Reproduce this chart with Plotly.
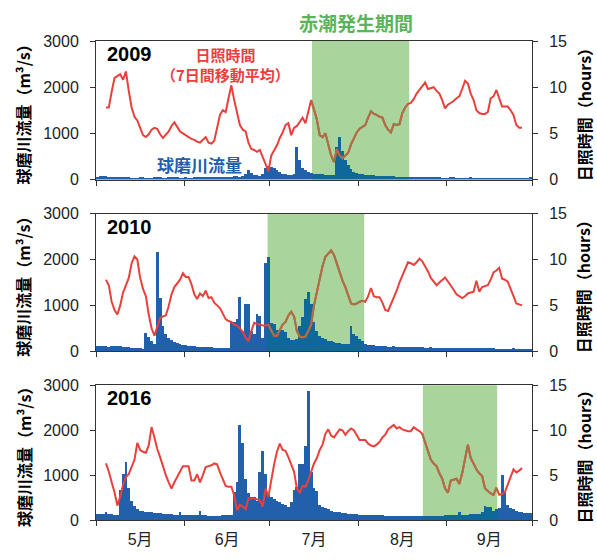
import pandas as pd
import plotly.graph_objects as go

YEARS = [2009, 2010, 2016]

# daily river flow (m3/s), May 1 - Sep 30
flow_2009 = [60, 70, 80, 75, 65, 60, 55, 50, 50, 45,
             45, 45, 40, 40, 40, 45, 45, 40, 40, 40,
             45, 50, 45, 40, 40, 45, 50, 50, 45, 40,
             40, 45, 40, 40, 45, 50, 50, 45, 45, 50,
             55, 65, 60, 55, 50, 50, 55, 60, 80, 70,
             65, 80, 120, 210, 150, 100, 90, 80, 110, 250,
             290, 280, 250, 200, 160, 130, 110, 100, 90, 120,
             700, 420, 240, 200, 170, 140, 130, 120, 110, 110,
             100, 100, 95, 95, 710, 920, 625, 415, 310, 220,
             170, 140, 125, 115, 105, 100, 95, 90, 85, 80,
             80, 75, 75, 70, 70, 65, 65, 60, 60, 55,
             55, 50, 50, 55, 50, 45, 45, 50, 60, 50,
             45, 40, 40, 40, 45, 45, 40, 40, 35, 35,
             40, 45, 40, 40, 35, 35, 35, 35, 35, 40,
             35, 35, 35, 30, 30, 30, 30, 35, 35, 30,
             30, 35, 60]
flow_2010 = [130, 120, 120, 115, 110, 120, 125, 120, 115, 110,
             100, 90, 80, 70, 70, 70, 65, 400, 310, 220,
             170, 2180, 1170, 560, 380, 300, 250, 210, 190, 170,
             150, 140, 130, 120, 115, 110, 100, 100, 95, 90,
             90, 85, 85, 80, 80, 80, 75, 650, 640, 700,
             1185, 450, 1040, 1040, 440, 380, 830, 770, 300, 1930,
             2060, 620, 600, 480, 475, 470, 430, 300, 260, 260,
             270, 560, 760, 1150, 1300, 1040, 650, 450, 340, 300,
             270, 240, 220, 200, 190, 180, 170, 165, 160, 560,
             380, 330, 280, 240, 160, 150, 150, 140, 130, 125,
             120, 115, 110, 110, 115, 110, 100, 100, 105, 100,
             95, 95, 90, 90, 90, 85, 85, 90, 85, 80,
             80, 80, 80, 80, 75, 75, 75, 75, 80, 75,
             75, 75, 75, 70, 70, 70, 70, 70, 70, 70,
             65, 65, 65, 65, 65, 65, 70, 65, 65, 65,
             65, 65, 65]
flow_2016 = [115, 115, 115, 175, 130, 115, 110, 110, 660, 1020,
             1275, 700, 420, 300, 240, 200, 190, 180, 170, 160,
             150, 150, 140, 130, 125, 120, 115, 110, 105, 160,
             110, 100, 95, 95, 95, 95, 190, 110, 95, 90,
             90, 90, 90, 90, 95, 95, 95, 100, 620, 840,
             2110, 1700, 910, 600, 500, 500, 420, 1060, 1530, 1020,
             560, 500, 470, 420, 400, 350, 330, 280, 400, 660,
             730, 1240, 1240, 1650, 2870, 1060, 700, 630, 330, 280,
             250, 230, 190, 180, 170, 160, 150, 140, 130, 125,
             120, 115, 110, 110, 105, 105, 100, 100, 95, 95,
             95, 90, 90, 90, 85, 85, 85, 80, 80, 80,
             80, 80, 80, 85, 75, 80, 90, 80, 80, 85,
             90, 85, 95, 100, 110, 105, 110, 170, 110, 100,
             110, 120, 130, 120, 130, 170, 300, 290, 280, 200,
             230, 260, 985, 620, 330, 260, 230, 200, 170, 160,
             155, 150, 150]

# sunshine hours, 7-day moving average, May 4 - Sep 27
sun_2009 = [7.8, 7.8, 9.5, 11.0, 11.2, 11.4, 10.8, 11.7, 9.6, 7.8,
            6.8, 6.4, 5.6, 4.8, 4.6, 4.9, 5.4, 5.6, 5.5, 4.9,
            4.5, 4.9, 5.2, 5.8, 6.2, 5.7, 5.2, 5.0, 4.8, 4.6,
            4.4, 4.3, 4.1, 4.0, 4.3, 4.6, 4.0, 3.9, 4.2, 5.5,
            7.0, 7.5, 7.3, 8.8, 10.2, 8.6, 7.2, 5.9, 5.4, 5.2,
            4.0, 3.3, 3.2, 3.0, 3.2, 2.4, 1.6, 0.9, 2.6, 3.2,
            3.7, 4.5, 5.1, 5.9, 6.1, 4.8, 5.6, 5.8, 6.3, 6.7,
            6.1, 7.5, 8.6, 7.6, 6.5, 4.8, 4.6, 5.0, 3.8, 2.6,
            1.9, 3.3, 2.6, 2.3, 2.6, 2.9, 3.8, 4.5, 5.1, 5.5,
            5.7, 5.9, 6.7, 7.4, 7.1, 7.0, 6.8, 6.7, 5.9, 5.4,
            5.1, 6.0, 5.9, 6.0, 7.2, 7.8, 8.2, 8.3, 8.7, 9.3,
            9.7, 10.1, 10.5, 9.8, 9.9, 10.0, 9.6, 9.3, 8.6, 7.7,
            8.1, 8.3, 8.5, 8.8, 9.0, 9.8, 10.7, 10.4, 9.3, 8.6,
            7.5, 7.2, 7.1, 7.1, 7.3, 8.8, 9.0, 9.7, 8.8, 7.9,
            7.9, 7.9, 7.5, 7.0, 5.9, 5.6, 5.6]
sun_2010 = [7.8, 7.2, 5.4, 4.5, 4.0, 5.0, 6.4, 7.2, 8.0, 9.6,
            10.35, 10.0, 8.0, 6.8, 6.0, 4.0, 2.5, 1.7, 2.8, 3.6,
            3.8, 3.9, 4.9, 6.2, 7.0, 7.4, 7.8, 8.5, 8.1, 8.1,
            7.3, 6.2, 5.7, 6.3, 6.0, 6.6, 5.8, 5.9, 5.3, 5.0,
            4.7, 4.1, 3.5, 3.3, 3.2, 2.9, 2.8, 2.5, 2.1, 1.5,
            1.1, 2.2, 3.1, 3.0, 2.9, 2.8, 2.8, 2.9, 2.2, 1.7,
            1.7, 2.4, 2.9, 3.2, 3.9, 4.3, 3.8, 2.2, 1.6, 1.5,
            1.6, 2.2, 2.9, 5.0, 6.5, 8.0, 9.3, 10.3, 10.7, 11.0,
            10.5, 9.6, 8.5, 7.7, 7.0, 6.1, 5.2, 5.1, 5.2, 5.4,
            5.5, 5.4, 6.0, 6.9, 6.0, 5.9, 5.9, 5.3, 4.5, 4.4,
            5.1, 5.8, 6.6, 7.5, 8.2, 9.0, 9.7, 9.6, 9.4, 9.7,
            10.1, 9.8, 9.3, 8.7, 8.0, 7.6, 7.2, 7.5, 7.8, 8.05,
            7.6, 7.2, 6.7, 6.2, 6.0, 5.8, 6.0, 6.3, 6.4, 6.5,
            7.7, 6.5, 7.0, 7.1, 7.2, 7.8, 8.6, 8.8, 9.1, 7.9,
            7.8, 7.6, 6.9, 6.0, 5.2, 5.1, 5.0]
sun_2016 = [6.3, 5.4, 4.2, 3.1, 1.6, 2.6, 3.9, 4.8, 5.1, 5.9,
            6.7, 8.6, 7.8, 7.6, 7.5, 8.3, 10.35, 9.2, 7.9, 7.0,
            5.9, 5.0, 4.2, 3.5, 4.2, 4.8, 5.4, 6.0, 6.0, 6.0,
            4.4, 4.4, 5.1, 4.2, 5.0, 5.9, 6.0, 6.1, 6.3, 6.2,
            5.3, 4.6, 3.8, 3.7, 3.7, 2.75, 1.1, 1.7, 1.5, 1.2,
            2.4, 2.4, 2.4, 2.3, 2.2, 1.5, 3.5, 2.6, 4.5, 6.2,
            7.6, 8.5, 7.8, 7.7, 7.0, 6.3, 5.4, 3.5, 3.0, 3.8,
            3.7, 4.4, 5.5, 6.3, 6.9, 7.8, 8.4, 9.6, 10.1, 9.4,
            9.2, 9.7, 10.1, 10.0, 9.5, 9.9, 10.2, 10.0, 9.4, 8.9,
            8.9, 8.9, 8.5, 8.3, 8.2, 8.4, 8.7, 9.2, 9.5, 10.1,
            10.35, 10.6, 10.2, 10.35, 10.1, 10.0, 9.9, 9.9, 10.35, 10.1,
            9.9, 9.6, 8.6, 7.5, 6.7, 6.3, 6.0, 5.2, 4.6, 3.5,
            3.05, 4.4, 4.5, 4.6, 4.0, 5.2, 6.8, 8.4, 6.9, 6.2,
            5.65, 5.2, 4.9, 3.5, 3.2, 2.95, 2.8, 3.6, 2.8, 2.9,
            3.1, 3.9, 4.7, 5.65, 5.3, 5.5, 5.8]

# red tide periods
tide_2009 = ["2009-07-15T19:00", "2009-08-18T22:00"]
tide_2010 = ["2010-06-30T05:00", "2010-08-03T03:00"]
tide_2016 = ["2016-08-23T17:00", "2016-09-18T19:00"]

FLOWS = {2009: flow_2009, 2010: flow_2010, 2016: flow_2016}
SUNS = {2009: sun_2009, 2010: sun_2010, 2016: sun_2016}
TIDES = {2009: tide_2009, 2010: tide_2010, 2016: tide_2016}

BLUE = "#2360ab"
BLUE_IN = "#0f689a"
RED = "#ea403c"
RED_IN = "#a87248"
GREEN_FILL = "#a9d49b"
AX = "#333333"
NUM_FONT = "Liberation Sans, Arial, Noto Sans CJK JP"
CJK_FONT = "Noto Sans CJK JP"

domains = [[0.7108, 1.0], [0.3523, 0.6395], [0.0, 0.2811]]

fig = go.Figure()
layout = dict(
    width=597, height=560,
    margin=dict(l=96, r=65, t=41, b=28),
    paper_bgcolor="white", plot_bgcolor="white",
    bargap=0, showlegend=False,
)
shapes = []
annotations = []

for i, yr in enumerate(YEARS):
    n = i + 1
    xa = "x" if n == 1 else f"x{n}"
    yl = "y" if n == 1 else f"y{2 * n - 1}"
    yr_ax = f"y{2 * n}"
    flow = FLOWS[yr]
    sun = SUNS[yr]
    t0, t1 = pd.Timestamp(TIDES[yr][0]), pd.Timestamp(TIDES[yr][1])
    fdates = pd.date_range(f"{yr}-05-01 12:00", periods=len(flow), freq="D")
    sdates = pd.date_range(f"{yr}-05-04 12:00", periods=len(sun), freq="D")
    bar_colors = [BLUE_IN if t0 <= d <= t1 else BLUE for d in fdates]
    fig.add_trace(go.Bar(x=fdates, y=flow, xaxis=xa, yaxis=yl,
                         marker=dict(color=bar_colors, line=dict(width=0))))
    fig.add_trace(go.Scatter(x=sdates, y=sun, xaxis=xa, yaxis=yr_ax, mode="lines",
                             line=dict(color=RED, width=2)))
    inside = [v if (t0 - pd.Timedelta(hours=12)) <= d <= (t1 + pd.Timedelta(hours=12)) else None
              for d, v in zip(sdates, sun)]
    fig.add_trace(go.Scatter(x=sdates, y=inside, xaxis=xa, yaxis=yr_ax, mode="lines",
                             line=dict(color=RED_IN, width=2)))

    xkey = "xaxis" if n == 1 else f"xaxis{n}"
    ylkey = "yaxis" if n == 1 else f"yaxis{2 * n - 1}"
    yrkey = f"yaxis{2 * n}"
    layout[xkey] = dict(
        domain=[0, 1], anchor=yl, type="date",
        range=[f"{yr}-05-01", f"{yr}-10-01"],
        dtick="M1", tick0=f"{yr}-05-01", ticklabelmode="period",
        tickformat="%-m月", ticks="outside", ticklen=5, tickcolor=AX,
        showline=True, linecolor=AX, linewidth=1, mirror=True,
        showgrid=False, zeroline=False, showticklabels=(n == 3),
        tickfont=dict(family=NUM_FONT, size=16, color="#222"),
    )
    layout[ylkey] = dict(
        domain=domains[i], anchor=xa, range=[0, 3000],
        tickvals=[0, 1000, 2000, 3000], ticks="outside", ticklen=5, tickcolor=AX,
        showline=True, linecolor=AX, linewidth=1, showgrid=False, zeroline=False,
        tickfont=dict(family=NUM_FONT, size=16, color="#222"), ticklabelstandoff=8,
    )
    layout[yrkey] = dict(
        overlaying=yl, side="right", anchor=xa, range=[0, 15],
        tickvals=[0, 5, 10, 15], ticks="outside", ticklen=5, tickcolor=AX,
        showline=True, linecolor=AX, linewidth=1, showgrid=False, zeroline=False,
        tickfont=dict(family=NUM_FONT, size=16, color="#222"), ticklabelstandoff=8,
    )
    shapes.append(dict(type="rect", xref=xa, yref=f"{yl} domain",
                       x0=TIDES[yr][0], x1=TIDES[yr][1],
                       y0=0, y1=1, fillcolor=GREEN_FILL, opacity=1,
                       line=dict(width=0), layer="below"))
    annotations.append(dict(text=f"<b>{yr}</b>", xref=f"{xa} domain", yref=f"{yl} domain",
                            x=0.02, y=0.905, xanchor="left", yanchor="middle",
                            showarrow=False,
                            font=dict(family=NUM_FONT, size=20, color="black")))
    ymid = (domains[i][0] + domains[i][1]) / 2
    annotations.append(dict(text="<b>球磨川流量（m³/s）</b>", xref="paper", yref="paper",
                            x=-0.1667, y=ymid, xanchor="center", yanchor="middle",
                            textangle=-90, showarrow=False,
                            font=dict(family=CJK_FONT, size=16, color="black")))
    annotations.append(dict(text="<b>日照時間（hours）</b>", xref="paper", yref="paper",
                            x=1.119, y=ymid, xanchor="center", yanchor="middle",
                            textangle=-90, showarrow=False,
                            font=dict(family=CJK_FONT, size=16, color="black")))

annotations.append(dict(text="<b>日照時間<br>（7日間移動平均）</b>", xref="x domain", yref="y domain",
                        x=0.298, y=0.827, xanchor="center", yanchor="middle",
                        showarrow=False, font=dict(family=CJK_FONT, size=15, color=RED)))
annotations.append(dict(text="<b>球磨川流量</b>", xref="x domain", yref="y domain",
                        x=0.2385, y=0.1054, xanchor="center", yanchor="middle",
                        showarrow=False, font=dict(family=CJK_FONT, size=17, color=BLUE)))
annotations.append(dict(text="<b>赤潮発生期間</b>", xref="paper", yref="paper",
                        x=0.596, y=1.0387, xanchor="center", yanchor="middle",
                        showarrow=False, font=dict(family=CJK_FONT, size=19, color="#5cb45a")))

layout["shapes"] = shapes
layout["annotations"] = annotations
fig.update_layout(**layout)
fig.write_html("out.html", config={"displayModeBar": False},
               post_script="document.body.style.margin='0px';")
